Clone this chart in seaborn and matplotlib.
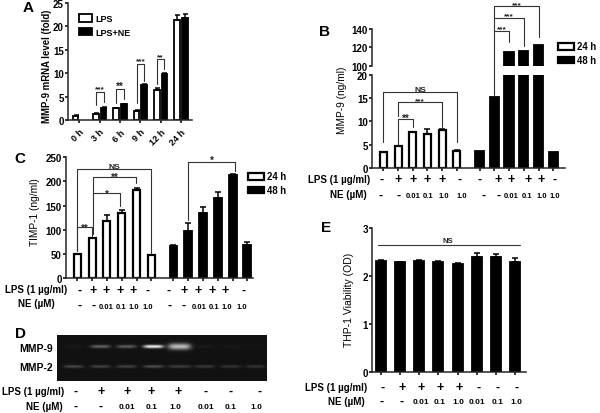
import numpy as np
import pandas as pd
import matplotlib
matplotlib.use("Agg")
import matplotlib.pyplot as plt
from matplotlib.patches import Patch
import seaborn as sns

# panel A
times = ["0 h", "3 h", "6 h", "9 h", "12 h", "24 h"]
a_lps = [0.9, 1.3, 2.5, 2.0, 6.5, 21.4]
a_ne = [np.nan, 2.6, 3.4, 7.5, 9.9, 21.9]
a_lps_err = [0.1, 0.1, 0.1, 0.2, 0.4, 1.0]
a_ne_err = [0, 0.1, 0.1, 0.1, 0.1, 0.8]

# panel B
b_24 = [3.4, 4.6, 7.6, 7.2, 8.2, 3.7]
b_48 = [3.5, 15.2, 115, 116, 123, 3.4]
b_24_err = [0.05, 0.1, 0.1, 1.2, 0.1, 0.1]

# panel C
c_24 = [50, 83, 119, 134, 181, 47]
c_48 = [67, 97, 134, 166, 213, 68]
c_24_err = [1, 1, 11, 7, 6, 1.5]
c_48_err = [2, 16, 12, 11, 1, 6]

# panel D, band brightness per lane
mmp9_bands = [0.03, 0.30, 0.28, 0.85, 0.65, 0.03, 0.02, 0.01]
mmp2_bands = [0.20, 0.18, 0.18, 0.22, 0.17, 0.15, 0.13, 0.13]

# panel E
e_vals = [2.32, 2.29, 2.32, 2.30, 2.26, 2.39, 2.40, 2.30]
e_err = [0.01, 0.01, 0.01, 0.01, 0.01, 0.09, 0.05, 0.07]

lps_signs = ["-", "+", "+", "+", "+", "-"]
ne_labels = ["-", "-", "0.01", "0.1", "1.0", "1.0"]
d_lps_signs = ["-", "+", "+", "+", "+", "-", "-", "-"]
d_ne_labels = ["-", "-", "0.01", "0.1", "1.0", "0.01", "0.1", "1.0"]

sns.set_theme(style="ticks")
plt.rcParams["font.family"] = ["Liberation Sans", "DejaVu Sans"]
plt.rcParams["font.weight"] = "bold"
plt.rcParams["axes.linewidth"] = 1.1

W, H = 600, 414
fig = plt.figure(figsize=(6, 4.14), dpi=100)


def make_ax(l, t, r, b):
    ax = fig.add_axes([l / W, 1 - b / H, (r - l) / W, (b - t) / H])
    ax.patch.set_alpha(0)
    sns.despine(ax=ax)
    ax.tick_params(axis="both", length=2.2, width=1.1, pad=1, labelsize=7, color="black", labelcolor="black")
    return ax


def ptext(x, y, s, size=7, ha="center", **kw):
    fig.text(x / W, 1 - y / H, s, fontsize=size, ha=ha, va="center", color="black", **kw)


def bracket(ax, x0, x1, top, y0, y1, label, size=6, dy=0):
    ax.plot([x0, x0, x1, x1], [y0, top, top, y1], color="#333333", lw=0.8, clip_on=False, zorder=5)
    ax.text((x0 + x1) / 2, top + dy, label, ha="center", va="center", fontsize=size, color="#222222", clip_on=False)


def bars(ax, pos, vals, color, width, err=None, lw=1.3):
    sns.barplot(x=pos, y=vals, native_scale=True, color=color, saturation=1, edgecolor="black",
                linewidth=lw, width=width, errorbar=None, ax=ax)
    if err is not None:
        ax.errorbar(pos, vals, yerr=[np.zeros(len(err)), err], fmt="none", ecolor="black",
                    elinewidth=1.1, capsize=2.2, capthick=1.1, zorder=4)


def legend(ax, x, y, names):
    handles = [Patch(facecolor="white", edgecolor="black", lw=1.6), Patch(facecolor="black", edgecolor="black", lw=1.6)]
    ax.legend(handles, names, loc="upper left", bbox_to_anchor=(x / W, 1 - y / H), bbox_transform=fig.transFigure,
              frameon=False, fontsize=6.9, handlelength=1.7, handleheight=0.7, handletextpad=0.3,
              labelspacing=0.4, borderpad=0, borderaxespad=0, labelcolor="black")


def row_text(xs, ys, labels, small=5.5):
    for x, s in zip(xs, labels):
        sign = s in ("-", "+")
        ptext(x, ys[0] if sign else ys[1], s, size=9 if sign else small)


# ---------- A ----------
ax = make_ax(68.3, 4, 191.5, 121)
df = pd.DataFrame({
    "time": times * 2,
    "value": a_lps + a_ne,
    "group": ["LPS"] * 6 + ["LPS+NE"] * 6,
})
sns.barplot(data=df, x="time", y="value", hue="group", palette={"LPS": "white", "LPS+NE": "black"},
            saturation=1, edgecolor="black", linewidth=1.3, width=0.754, gap=0.26, errorbar=None,
            legend=False, ax=ax)
off = 0.1885
grp = np.arange(6)
ax.errorbar(grp - off, a_lps, yerr=[np.zeros(6), a_lps_err], fmt="none", ecolor="black", elinewidth=1.1, capsize=1.8, capthick=1.1)
ax.errorbar(grp + off, a_ne, yerr=[np.zeros(6), a_ne_err], fmt="none", ecolor="black", elinewidth=1.1, capsize=1.8, capthick=1.1)
ax.set_xlim(-0.55, 5.52)
ax.set_ylim(0, 25)
ax.set_yticks([0, 5, 10, 15, 20, 25])
ax.set_xlabel("")
ax.set_ylabel("")
ax.set_xticks(grp)
ax.set_xticklabels(times, rotation=45, ha="right", rotation_mode="anchor", fontsize=6.5)
ax.tick_params(axis="x", pad=3)
bracket(ax, 1 - off, 1 + off, 5.9, 3.1, 3.8, "***", dy=0.7)
bracket(ax, 2 - off, 2 + off, 6.6, 3.6, 4.5, "**", size=7, dy=0.6)
bracket(ax, 3 - off, 3 + off, 12.0, 3.6, 8.4, "***", dy=0.7)
bracket(ax, 4 - off, 4 + off, 13.0, 7.7, 10.9, "**", dy=0.6)
ax.legend([Patch(facecolor="white", edgecolor="black", lw=1.3), Patch(facecolor="black", edgecolor="black", lw=1.3)],
          ["LPS", "LPS+NE"], loc="upper left", bbox_to_anchor=(79 / W, 1 - 15 / H), bbox_transform=fig.transFigure,
          frameon=False, fontsize=6.5, handlelength=1.4, handleheight=0.9, handletextpad=0.4, labelspacing=0.5,
          borderpad=0, borderaxespad=0, labelcolor="black")
ptext(47.5, 66, "MMP-9 mRNA level (fold)", size=6.9, rotation=90)
ptext(28, 7.5, "A", size=11)

# ---------- B ----------
pos_b = np.arange(6.0)
pos_b2 = pos_b + 6.55
ax_hi = make_ax(372.3, 30, 565, 66.7)
ax_lo = make_ax(372.3, 76, 565, 168.7)
bars(ax_hi, pos_b2, b_48, "black", 0.63)
ax_hi.spines["bottom"].set_visible(False)
ax_hi.set_ylim(100, 140)
ax_hi.set_yticks([100, 120, 140])
ax_hi.set_xticks([])
bars(ax_lo, pos_b, b_24, "white", 0.48, b_24_err, lw=1.6)
bars(ax_lo, pos_b2, b_48, "black", 0.63)
ax_lo.set_ylim(0, 20)
ax_lo.set_yticks([0, 5, 10, 15, 20])
ax_lo.set_xticks(np.concatenate([pos_b, pos_b2]))
ax_lo.set_xticklabels([])
for a in (ax_hi, ax_lo):
    a.set_xlim(-0.75, 12.35)
    a.set_xlabel("")
    a.set_ylabel("")
bracket(ax_lo, 0, 5, 16.4, 5.5, 5.5, "NS", dy=0.4)
bracket(ax_lo, 1, 4, 14.1, 11.2, 8.7, "***", dy=0.4)
bracket(ax_lo, 1, 2, 10.4, 4.9, 8.7, "**", size=7, dy=0.4)
bracket(ax_lo, 7.55, 8.55, 29.6, 15.6, 27.2, "***", dy=0.4)
bracket(ax_lo, 7.55, 9.55, 32.4, 29.6, 26.3, "***", dy=0.4)
bracket(ax_lo, 7.55, 10.55, 34.8, 32.4, 28.1, "***", dy=0.4)
legend(ax_lo, 558, 42.5, ["24 h", "48 h"])
ptext(342, 100, "MMP-9 (ng/ml)", size=7.3, rotation=90, fontweight="normal")
ptext(325, 32, "B", size=11)
b_sign_x = [381.7, 398.3, 412.7, 427.3, 442, 459.3, 480, 498.3, 511, 527.7, 540.7, 555]
b_ne_x = [380.7, 398.7, 413.3, 428.3, 444, 462.3, 483.3, 498.3, 510.7, 527.3, 542.3, 555]
row_text(b_sign_x, (180, 180), lps_signs * 2)
row_text(b_ne_x, (196, 197), ne_labels * 2)
ptext(370, 180, "LPS (1 µg/ml)", ha="right")
ptext(367, 195, "NE (µM)", ha="right")

# ---------- C ----------
ax = make_ax(66, 158, 253.3, 279.3)
pos_c = np.arange(6.0)
pos_c2 = pos_c + 6.5
bars(ax, pos_c, c_24, "white", 0.48, c_24_err, lw=1.6)
bars(ax, pos_c2, c_48, "black", 0.53, c_48_err)
ax.set_xlim(-0.77, 11.9)
ax.set_ylim(0, 250)
ax.set_yticks([0, 50, 100, 150, 200, 250])
ax.set_xticks(np.concatenate([pos_c, pos_c2]))
ax.set_xticklabels([])
ax.set_xlabel("")
ax.set_ylabel("")
bracket(ax, 0, 5, 224.7, 57, 53, "NS", dy=6)
bracket(ax, 1.08, 3.95, 209, 175, 197, "**", size=7, dy=0)
bracket(ax, 1.08, 2.87, 175, 91, 149, "*", size=7, dy=0)
bracket(ax, 0, 1.0, 105, 57, 88, "**", size=7, dy=0)
bracket(ax, 7.48, 10.65, 240, 120, 221, "*", size=7, dy=5)
legend(ax, 248, 172.5, ["24 h", "48 h"])
ptext(35, 212, "TIMP-1 (ng/ml)", size=7.3, rotation=90, fontweight="normal")
ptext(20, 159.5, "C", size=11)
c_sign_x = [79.3, 93.3, 106, 120, 133.3, 147.3, 168.3, 184.3, 198.3, 211.7, 225, 243.3]
c_ne_x = [79.3, 93.3, 106, 120.7, 134, 148.3, 170, 184, 199.3, 214, 226.7, 241.7]
row_text(c_sign_x, (290.7, 290.7), lps_signs * 2)
row_text(c_ne_x, (306, 307.5), ne_labels * 2)
ptext(67, 290.5, "LPS (1 µg/ml)", ha="right")
ptext(55, 304, "NE (µM)", ha="right")

# ---------- D ----------
ax = fig.add_axes([57 / W, 1 - 382 / H, 210 / W, 46.5 / H])
cols = np.arange(210)
rows = np.arange(47)
lane_px = [16, 43, 69, 96, 122, 147, 173, 198]
gel = np.full((47, 210), 0.07)
for c, m9, m2 in zip(lane_px, mmp9_bands, mmp2_bands):
    wide = c == 122
    half = 11.5 if wide else 10
    xp = np.exp(-((cols - c) / half) ** 4)
    thick = 3.2 if wide else 1.7
    gel += m9 * np.outer(np.exp(-((rows - 12) / thick) ** 2), xp)
    gel += m2 * np.outer(np.exp(-((rows - 32) / 1.5) ** 2), xp)
sns.heatmap(gel, cmap="gray", vmin=0, vmax=1, cbar=False, xticklabels=False, yticklabels=False, ax=ax)
ax.set_xlabel("")
ax.set_ylabel("")
ptext(52.7, 349, "MMP-9", ha="right", size=7.5)
ptext(52.7, 368, "MMP-2", ha="right", size=7.5)
ptext(20, 334, "D", size=11)
d_sign_x = [76, 101, 127.3, 151, 177.7, 206, 230.7, 259.3]
d_ne_x = [75.3, 100.7, 126.7, 151.7, 175.7, 206, 230.7, 256.7]
row_text(d_sign_x, (391.7, 391.7), d_lps_signs)
row_text(d_ne_x, (406.5, 408), d_ne_labels, small=6)
ptext(64, 391.7, "LPS (1 µg/ml)", ha="right")
ptext(63, 407, "NE (µM)", ha="right")

# ---------- E ----------
ax = make_ax(372.3, 229, 526, 373.3)
pos_e = np.arange(8.0)
bars(ax, pos_e, e_vals, "black", 0.53, e_err)
ax.set_xlim(-0.45, 7.57)
ax.set_ylim(0, 3)
ax.set_yticks([0, 1, 2, 3])
ax.set_xticks(pos_e)
ax.set_xticklabels([])
ax.set_xlabel("")
ax.set_ylabel("")
ax.plot([-0.14, 7.25], [2.64, 2.64], color="#333333", lw=0.8)
ax.text(3.47, 2.74, "NS", ha="center", va="center", fontsize=5.5, color="#222222")
ptext(349, 300, "THP-1 Viability (OD)", size=7.5, rotation=90, fontweight="normal")
ptext(326, 228, "E", size=11)
e_sign_x = [382.7, 401.7, 420.7, 440, 459.3, 478.3, 497.3, 516.7]
e_ne_x = [381.7, 401.7, 420.7, 440, 458.3, 477.3, 497.3, 516.7]
row_text(e_sign_x, (388, 388), d_lps_signs)
row_text(e_ne_x, (402, 403), d_ne_labels, small=6)
ptext(367.7, 388.5, "LPS (1 µg/ml)", ha="right")
ptext(365, 402.5, "NE (µM)", ha="right")

fig.savefig("out.png", dpi=100)
